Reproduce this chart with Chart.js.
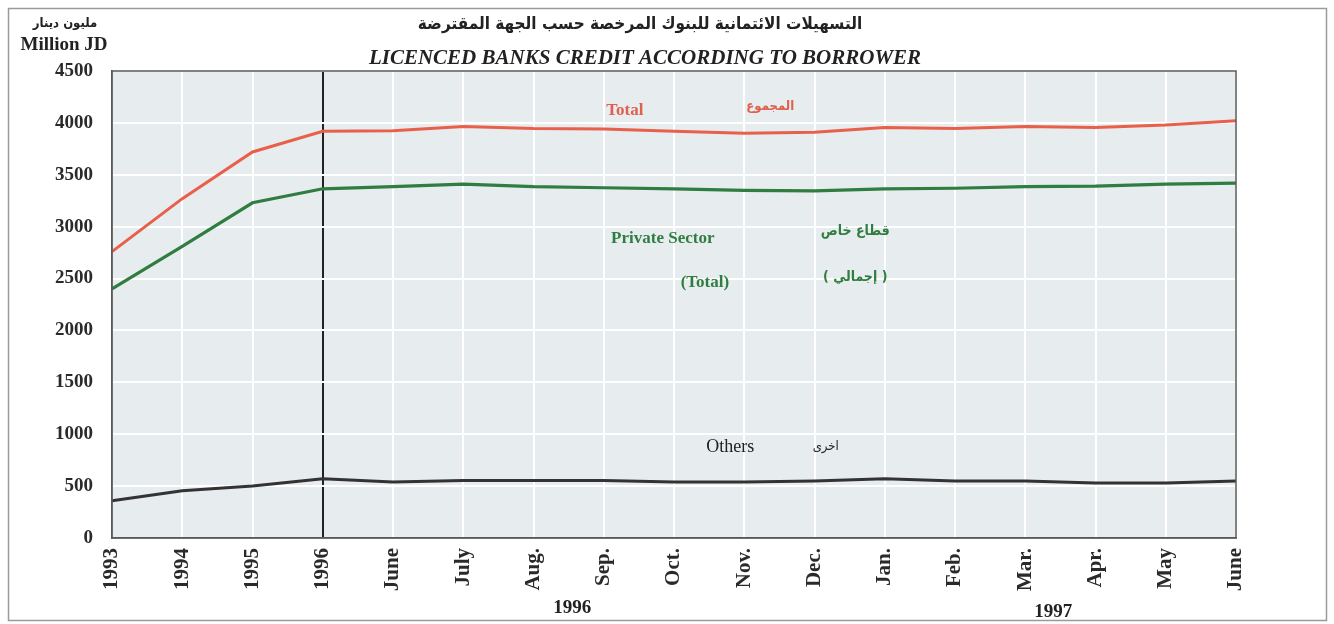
<!DOCTYPE html>
<html>
<head>
<meta charset="utf-8">
<script src="https://cdn.jsdelivr.net/npm/chart.js@4.4.1/dist/chart.umd.min.js"></script>
<style>
  html, body { margin: 0; padding: 0; background: #ffffff; }
  #c { display: block; }
</style>
</head>
<body>
<canvas id="c" width="1334" height="624"></canvas>
<script>
// ---- Data ----
const categories = ['1993','1994','1995','1996','June','July','Aug.','Sep.','Oct.','Nov.','Dec.','Jan.','Feb.','Mar.','Apr.','May','June'];
const totalValues   = [2760, 3270, 3720, 3920, 3925, 3965, 3945, 3940, 3920, 3900, 3910, 3955, 3945, 3965, 3955, 3980, 4020];
const privateValues = [2400, 2810, 3230, 3365, 3385, 3410, 3385, 3375, 3365, 3350, 3345, 3365, 3370, 3385, 3390, 3410, 3420];
const otherValues   = [ 360,  455,  500,  570,  540,  555,  555,  555,  540,  540,  550,  570,  550,  550,  530,  530,  550];
const yTicks = [0, 500, 1000, 1500, 2000, 2500, 3000, 3500, 4000, 4500];
const titleAr = 'التسهيلات الائتمانية للبنوك المرخصة حسب الجهة المقترضة';
const titleEn = 'LICENCED BANKS CREDIT ACCORDING TO BORROWER';
const unitAr = 'مليون دينار';
const unitEn = 'Million JD';
const yearGroups = [{text: '1996', at: 6.55, dy: 70}, {text: '1997', at: 13.4, dy: 74}];
const AR = '"DejaVu Sans Condensed", "DejaVu Sans"';
const seriesLabels = [
  {text: 'Total', at: 7.3, value: 4114, color: '#e0604e', font: 'bold 17px "Liberation Serif"'},
  {text: 'المجموع', at: 9.37, value: 4160, color: '#e0604e', font: 'bold 13px ' + AR},
  {text: 'Private Sector', at: 7.84, value: 2881, color: '#2f7d40', font: 'bold 17px "Liberation Serif"'},
  {text: 'قطاع خاص', at: 10.58, value: 2955, color: '#2f7d40', font: 'bold 14px ' + AR},
  {text: '(Total)', at: 8.44, value: 2457, color: '#2f7d40', font: 'bold 17px "Liberation Serif"'},
  {text: '( إجمالي )', at: 10.58, value: 2515, color: '#2f7d40', font: 'bold 14px ' + AR},
  {text: 'Others', at: 8.8, value: 877, color: '#222222', font: '18px "Liberation Serif"'},
  {text: 'اخرى', at: 10.16, value: 877, color: '#222222', font: '13px ' + AR}
];

const decor = {
  id: 'decor',
  beforeDraw(chart) {
    const {ctx, chartArea: a} = chart;
    ctx.save();
    ctx.fillStyle = '#ffffff';
    ctx.fillRect(0, 0, chart.width, chart.height);
    ctx.fillStyle = '#e7ecee';
    ctx.fillRect(a.left, a.top, a.right - a.left, a.bottom - a.top);
    ctx.restore();
  },
  afterDraw(chart) {
    const {ctx, chartArea: a, scales} = chart;
    const x = scales.x, y = scales.y;
    ctx.save();
    // plot frame
    ctx.strokeStyle = '#5a5a5a';
    ctx.lineWidth = 1.5;
    ctx.strokeRect(a.left, a.top, a.right - a.left, a.bottom - a.top);
    // outer frame
    ctx.strokeStyle = '#9a9a9a';
    ctx.lineWidth = 1.5;
    ctx.strokeRect(8.5, 8.5, chart.width - 16, chart.height - 12);
    // titles
    ctx.textAlign = 'center';
    ctx.textBaseline = 'middle';
    ctx.fillStyle = '#222222';
    ctx.font = 'bold 17px ' + AR;
    ctx.fillText(titleAr, 640, 25);
    ctx.font = 'italic bold 21px "Liberation Serif"';
    ctx.fillText(titleEn, 645, 59);
    // unit
    ctx.font = 'bold 13px ' + AR;
    ctx.fillText(unitAr, 65, 24);
    ctx.font = 'bold 19px "Liberation Serif"';
    ctx.fillText(unitEn, 64, 45);
    // year groups
    ctx.font = 'bold 19px "Liberation Serif"';
    yearGroups.forEach(g => {
      ctx.fillText(g.text, x.getPixelForValue(g.at), a.bottom + g.dy);
    });
    // series labels
    seriesLabels.forEach(l => {
      ctx.font = l.font;
      ctx.fillStyle = l.color;
      ctx.fillText(l.text, x.getPixelForValue(l.at), y.getPixelForValue(l.value));
    });
    ctx.restore();
  }
};

new Chart(document.getElementById('c'), {
  type: 'line',
  data: {
    labels: categories,
    datasets: [
      {label: 'Total', data: totalValues, borderColor: '#e8604c', borderWidth: 3, pointRadius: 0, tension: 0},
      {label: 'Private Sector (Total)', data: privateValues, borderColor: '#2f7d40', borderWidth: 3.2, pointRadius: 0, tension: 0},
      {label: 'Others', data: otherValues, borderColor: '#333333', borderWidth: 3, pointRadius: 0, tension: 0}
    ]
  },
  options: {
    responsive: false,
    animation: false,
    layout: {padding: {top: 71, right: 98, left: 0, bottom: 0}},
    plugins: {legend: {display: false}, title: {display: false}, tooltip: {enabled: false}},
    scales: {
      x: {
        type: 'category',
        offset: false,
        afterFit(s) { s.height = 86; },
        grid: {
          drawTicks: false,
          color: c => c.index === 3 ? '#222222' : '#ffffff',
          lineWidth: 2
        },
        border: {display: true, color: '#5a5a5a', width: 1.5},
        ticks: {
          autoSkip: false,
          minRotation: 90,
          maxRotation: 90,
          padding: 10,
          color: '#2a2a2a',
          font: {family: '"Liberation Serif"', size: 21, weight: 'bold'}
        }
      },
      y: {
        min: 0,
        max: 4500,
        afterFit(s) { s.width = 112; },
        afterBuildTicks(s) { s.ticks = yTicks.map(v => ({value: v})); },
        grid: {drawTicks: false, color: '#ffffff', lineWidth: 2},
        border: {display: true, color: '#5a5a5a', width: 1.5},
        ticks: {
          padding: 19,
          color: '#2a2a2a',
          callback: v => String(v),
          font: {family: '"Liberation Serif"', size: 19, weight: 'bold'}
        }
      }
    }
  },
  plugins: [decor]
});
</script>
</body>
</html>
